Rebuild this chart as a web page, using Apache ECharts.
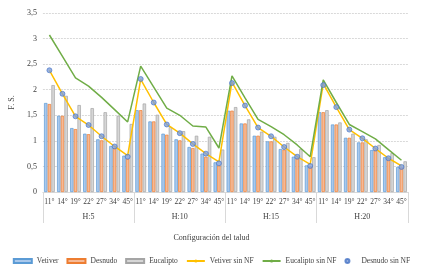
<!DOCTYPE html>
<html>
<head>
<meta charset="utf-8">
<script src="https://cdn.jsdelivr.net/npm/echarts@6/dist/echarts.min.js"></script>
<style>
  html, body { margin: 0; padding: 0; background: #fff; }
  #chart { width: 423px; height: 275px; }
</style>
</head>
<body>
<div id="chart"></div>
<script>
// slope angles, repeated for each height group
const angles = ['11°', '14°', '19°', '22°', '27°', '34°', '45°'];
const groups = ['H:5', 'H:10', 'H:15', 'H:20'];
const categories = groups.flatMap(() => angles);

// bars
const vetiver = [1.74, 1.49, 1.25, 1.14, 1.03, 0.90, 0.71,
  1.60, 1.38, 1.14, 1.03, 0.88, 0.75, 0.58,
  1.59, 1.34, 1.10, 0.99, 0.84, 0.69, 0.52,
  1.56, 1.32, 1.06, 0.97, 0.82, 0.68, 0.49];
const desnudo = [1.72, 1.49, 1.23, 1.13, 1.01, 0.86, 0.65,
  1.60, 1.38, 1.12, 1.01, 0.86, 0.69, 0.52,
  1.59, 1.34, 1.10, 0.99, 0.83, 0.66, 0.50,
  1.56, 1.32, 1.06, 0.97, 0.82, 0.66, 0.48];
const eucalipto = [2.09, 1.88, 1.70, 1.64, 1.56, 1.49, 1.33,
  1.73, 1.51, 1.27, 1.19, 1.10, 1.08, 0.83,
  1.66, 1.42, 1.18, 1.08, 0.96, 0.84, 0.68,
  1.60, 1.36, 1.14, 1.03, 0.92, 0.76, 0.60];

// lines / dots (no NF)
const vetiverSinNF = [2.38, 1.92, 1.48, 1.31, 1.09, 0.89, 0.71,
  2.20, 1.75, 1.32, 1.15, 0.94, 0.75, 0.59,
  2.15, 1.69, 1.26, 1.09, 0.88, 0.69, 0.54,
  2.12, 1.66, 1.22, 1.05, 0.85, 0.66, 0.51];
const eucaliptoSinNF = [3.07, 2.65, 2.23, 2.07, 1.85, 1.61, 1.37,
  2.46, 2.05, 1.64, 1.50, 1.29, 1.27, 0.86,
  2.27, 1.84, 1.42, 1.28, 1.12, 0.92, 0.69,
  2.19, 1.75, 1.32, 1.18, 1.04, 0.83, 0.62];
const desnudoSinNF = [2.38, 1.92, 1.48, 1.31, 1.09, 0.89, 0.69,
  2.21, 1.75, 1.32, 1.15, 0.94, 0.75, 0.56,
  2.13, 1.69, 1.26, 1.09, 0.88, 0.69, 0.51,
  2.09, 1.66, 1.22, 1.05, 0.85, 0.66, 0.49];

const FONT = 'Liberation Serif';
const TXT = '#404040';

const barSeries = (name, data, fill, edge) => ({
  name: name,
  type: 'bar',
  data: data,
  barWidth: 3.4,
  barGap: '8%',
  itemStyle: { color: fill, borderColor: edge, borderWidth: 0.7 },
});

const chart = echarts.init(document.getElementById('chart'));
chart.setOption({
  animation: false,
  textStyle: { fontFamily: FONT, color: TXT },
  title: {
    text: 'Configuración del talud',
    left: 'center',
    top: 229,
    textStyle: { fontFamily: FONT, fontSize: 8, fontWeight: 'normal', color: TXT },
  },
  legend: {
    top: 257,
    left: 'center',
    padding: 0,
    itemWidth: 18,
    itemHeight: 4,
    itemGap: 8,
    textStyle: { fontFamily: FONT, fontSize: 7.5, color: TXT },
    data: [
      { name: 'Vetiver', icon: 'rect' },
      { name: 'Desnudo', icon: 'rect' },
      { name: 'Eucalipto', icon: 'rect' },
      { name: 'Vetiver sin NF' },
      { name: 'Eucalipto sin NF' },
      { name: 'Desnudo sin NF', icon: 'circle' },
    ],
  },
  grid: { left: 36, right: 15, top: 13, bottom: 83 },
  xAxis: [
    {
      type: 'category',
      data: categories,
      axisLine: { lineStyle: { color: '#d9d9d9' } },
      axisTick: { show: false },
      axisLabel: { interval: 0, margin: 6, fontSize: 7.5, fontFamily: FONT, color: TXT },
    },
    {
      type: 'category',
      data: groups,
      position: 'bottom',
      axisLine: { show: false },
      axisTick: { show: true, interval: 0, length: 31, lineStyle: { color: '#d9d9d9' } },
      axisLabel: { margin: 21, fontSize: 8, fontFamily: FONT, color: TXT },
    },
  ],
  yAxis: {
    type: 'value',
    min: 0,
    max: 3.5,
    interval: 0.5,
    name: 'F. S.',
    nameLocation: 'middle',
    nameGap: 22,
    nameTextStyle: { fontFamily: FONT, fontSize: 8, color: TXT },
    axisLine: { show: false },
    axisTick: { show: false },
    axisLabel: {
      margin: 6,
      fontSize: 8,
      fontFamily: FONT,
      color: TXT,
      formatter: (v) => String(v).replace('.', ','),
    },
    splitLine: { lineStyle: { color: '#d9d9d9', type: [2, 1] } },
  },
  series: [
    barSeries('Vetiver', vetiver, '#a9c8ec', '#5b9bd5'),
    barSeries('Desnudo', desnudo, '#f6b995', '#ed7d31'),
    barSeries('Eucalipto', eucalipto, '#d6d6d6', '#a5a5a5'),
    {
      name: 'Vetiver sin NF',
      type: 'line',
      data: vetiverSinNF,
      symbol: 'none',
      lineStyle: { color: '#ffc000', width: 1.5 },
      itemStyle: { color: '#ffc000' },
      z: 3,
    },
    {
      name: 'Eucalipto sin NF',
      type: 'line',
      data: eucaliptoSinNF,
      symbol: 'none',
      lineStyle: { color: '#70ad47', width: 1.5 },
      itemStyle: { color: '#70ad47' },
      z: 3,
    },
    {
      name: 'Desnudo sin NF',
      type: 'scatter',
      data: desnudoSinNF,
      symbol: 'circle',
      symbolSize: 5,
      itemStyle: { color: '#7f9fd9', borderColor: '#4472c4', borderWidth: 0.8 },
      z: 4,
    },
  ],
});
</script>
</body>
</html>
